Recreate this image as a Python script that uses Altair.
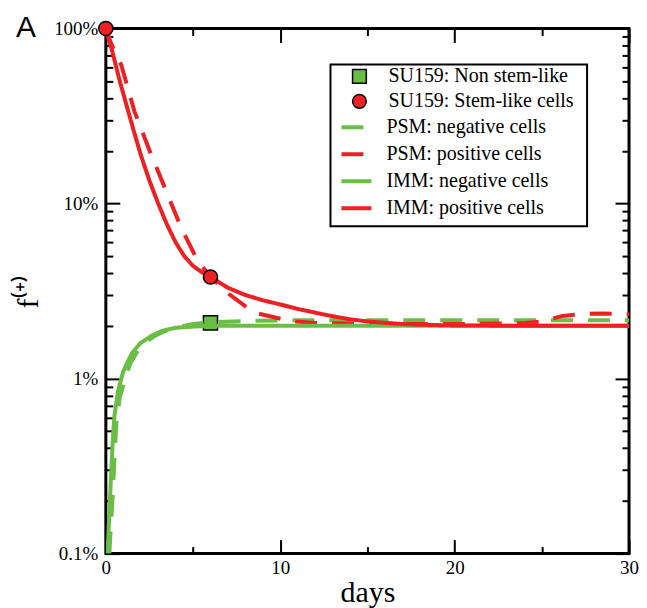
import altair as alt
import pandas as pd

# ---------------- data ----------------
panel_label = ["A"]

marker_names = ["SU159: Non stem-like", "SU159: Stem-like cells"]
model_names = ["PSM: negative cells", "PSM: positive cells", "IMM: negative cells", "IMM: positive cells"]

# PSM (dashed) curves
psm_neg_days = [0.2, 0.3, 0.4, 0.5, 0.6, 0.8, 1.07, 1.4, 1.83, 2.3, 2.8, 3.4, 4.0, 5.0, 6.0, 8.0, 10.0, 15.0, 20.0, 25.0, 30.0]
psm_neg_vals = [0.1, 0.15, 0.22, 0.36, 0.55, 0.78, 0.97, 1.22, 1.44, 1.62, 1.75, 1.87, 1.95, 2.05, 2.1, 2.13, 2.15, 2.15, 2.15, 2.15, 2.15]

psm_pos_days = [0.0, 0.3, 0.88, 1.64, 2.6, 3.55, 4.31, 5.27, 6.0, 7.08, 8.5, 10.6, 12.0, 15.0, 20.0, 24.0, 25.0, 26.2, 27.5, 28.5, 30.0]
psm_pos_vals = [100.0, 82.0, 62.0, 33.6, 19.0, 11.2, 7.3, 4.7, 3.8, 3.03, 2.38, 2.13, 2.08, 2.05, 2.05, 2.07, 2.12, 2.28, 2.34, 2.35, 2.33]

# IMM (solid) curves
imm_neg_days = [0.1, 0.2, 0.3, 0.4, 0.5, 0.7, 1.0, 1.5, 2.0, 2.6, 3.2, 4.0, 5.0, 6.0, 10.0, 20.0, 30.0]
imm_neg_vals = [0.1, 0.17, 0.28, 0.45, 0.62, 0.85, 1.1, 1.4, 1.6, 1.75, 1.87, 1.95, 1.98, 2.0, 2.0, 2.0, 2.0]

imm_pos_days = [0.0, 0.4, 0.8, 1.2, 1.6, 2.0, 2.5, 3.0, 3.5, 4.0, 4.5, 5.0, 5.5, 6.0, 7.0, 8.0, 9.0, 10.0, 11.0, 12.0, 13.0, 14.0, 15.0, 16.0, 17.0, 18.0, 20.0, 25.0, 30.0]
imm_pos_vals = [100.0, 72.0, 50.0, 36.0, 26.0, 19.0, 13.5, 10.0, 7.6, 6.0, 5.0, 4.4, 4.05, 3.8, 3.3, 3.0, 2.8, 2.65, 2.5, 2.38, 2.27, 2.18, 2.12, 2.08, 2.05, 2.03, 2.01, 2.0, 2.0]

# experimental points
sq_series = ["SU159: Non stem-like"]
sq_days = [6.0]
sq_vals = [2.08]
circ_series = ["SU159: Stem-like cells", "SU159: Stem-like cells"]
circ_days = [0.0, 6.0]
circ_vals = [100.0, 3.8]

# axis tick values
x_label_vals = [0, 10, 20, 30]
x_tick_vals = [0, 5, 10, 15, 20, 25, 30]
y_label_vals = [0.1, 1, 10, 100]
y_tick_vals = [0.1, 0.2, 0.3, 0.4, 0.5, 0.6, 0.7, 0.8, 0.9,
               1, 2, 3, 4, 5, 6, 7, 8, 9,
               10, 20, 30, 40, 50, 60, 70, 80, 90, 100]

GREEN = "#6abd45"
RED = "#ed2024"

# ---------------- frames ----------------
def mk(name, days, vals):
    return pd.DataFrame({"series": name, "day": days, "pct": vals})

psm_df = pd.concat([mk("PSM: negative cells", psm_neg_days, psm_neg_vals),
                    mk("PSM: positive cells", psm_pos_days, psm_pos_vals)])
imm_df = pd.concat([mk("IMM: negative cells", imm_neg_days, imm_neg_vals),
                    mk("IMM: positive cells", imm_pos_days, imm_pos_vals)])
sq_df = pd.DataFrame({"series": sq_series, "day": sq_days, "pct": sq_vals})
circ_df = pd.DataFrame({"series": circ_series, "day": circ_days, "pct": circ_vals})
lab_df = pd.DataFrame({"label": panel_label})
box_df = pd.DataFrame({"k": [0]})

W, H = 524, 526
SERIF = "Liberation Serif"

x_scale = alt.Scale(domain=[0, 30], nice=False)
y_scale = alt.Scale(type="log", domain=[0.1, 100], nice=False)

fill_scale = alt.Scale(domain=marker_names, range=[GREEN, RED])
shape_scale = alt.Scale(domain=marker_names, range=["square", "circle"])
stroke_scale = alt.Scale(domain=model_names, range=[GREEN, RED, GREEN, RED])
dash_scale = alt.Scale(domain=model_names, range=[[22, 15], [22, 15], [1, 0], [1, 0]])

leg_markers = alt.Legend(
    title=None, orient="none", legendX=244, legendY=38,
    labelFont=SERIF, labelFontSize=20, labelColor="black", labelLimit=0,
    symbolSize=190, symbolStrokeWidth=1.5, symbolOpacity=1,
    labelOffset=19, rowPadding=5, padding=0,
)
leg_models = alt.Legend(
    title=None, orient="none", legendX=234, legendY=82,
    labelFont=SERIF, labelFontSize=20, labelColor="black", labelLimit=0,
    symbolType="stroke", symbolSize=900, symbolStrokeWidth=4, symbolOpacity=1,
    labelOffset=13, rowPadding=-7, padding=0,
)

x_major = {"condition": {"test": "datum.value % 10 === 0", "value": 14}, "value": 7}
y_major = {"condition": {"test": "datum.value === 0.1 || datum.value === 1 || datum.value === 10 || datum.value === 100", "value": 14}, "value": 7}

def tick_axis(orient, vals, size, offset):
    return alt.Axis(orient=orient, values=vals, labels=False, title=None, domain=False, grid=False,
                    ticks=True, tickSize=size, tickWidth=2, tickColor="black", offset=offset)

main_x = alt.Axis(values=x_label_vals, ticks=False, domain=False, grid=False, title="days",
                  labelFont=SERIF, labelFontSize=19, labelColor="black", labelPadding=5,
                  labelFlush=False, labelOverlap=False,
                  titleFont=SERIF, titleFontSize=30, titleFontWeight="normal", titleColor="black", titlePadding=0)
main_y = alt.Axis(values=y_label_vals, labelExpr="datum.value + '%'", ticks=False, domain=False, grid=False,
                  title="f⁽⁺⁾", labelFont=SERIF, labelFontSize=19, labelColor="black", labelPadding=8,
                  labelFlush=False, labelOverlap=False,
                  titleFont=SERIF, titleFontSize=30, titleFontWeight="normal", titleColor="black", titlePadding=10)

sq_layer = alt.Chart(sq_df).mark_point(filled=True, stroke="black", strokeWidth=1.5, size=200, opacity=1).encode(
    x=alt.X("day:Q", scale=x_scale, axis=None),
    y=alt.Y("pct:Q", scale=y_scale, axis=None),
    fill=alt.Fill("series:N", scale=fill_scale, legend=leg_markers),
    shape=alt.Shape("series:N", scale=shape_scale, legend=leg_markers),
)

psm_layer = alt.Chart(psm_df).mark_line(strokeWidth=4, clip=True).encode(
    x=alt.X("day:Q", scale=x_scale, axis=main_x),
    y=alt.Y("pct:Q", scale=y_scale, axis=main_y),
    stroke=alt.Stroke("series:N", scale=stroke_scale, legend=leg_models),
    strokeDash=alt.StrokeDash("series:N", scale=dash_scale, legend=leg_models),
)

imm_layer = alt.Chart(imm_df).mark_line(strokeWidth=4, clip=True).encode(
    x=alt.X("day:Q", scale=x_scale, axis=tick_axis("top", x_tick_vals, x_major, -H)),
    y=alt.Y("pct:Q", scale=y_scale, axis=tick_axis("right", y_tick_vals, y_major, -W)),
    stroke=alt.Stroke("series:N", scale=stroke_scale, legend=leg_models),
    strokeDash=alt.StrokeDash("series:N", scale=dash_scale, legend=leg_models),
)

circ_layer = alt.Chart(circ_df).mark_point(filled=True, stroke="black", strokeWidth=1.5, size=200, opacity=1).encode(
    x=alt.X("day:Q", scale=x_scale, axis=tick_axis("bottom", x_tick_vals, x_major, -H)),
    y=alt.Y("pct:Q", scale=y_scale, axis=tick_axis("left", y_tick_vals, y_major, -W)),
    fill=alt.Fill("series:N", scale=fill_scale, legend=leg_markers),
    shape=alt.Shape("series:N", scale=shape_scale, legend=leg_markers),
)

box_layer = alt.Chart(box_df).mark_rect(fill="white", stroke="black", strokeWidth=2).encode(
    x=alt.value(225), x2=alt.value(482), y=alt.value(36), y2=alt.value(198),
)

lab_layer = alt.Chart(lab_df).mark_text(font="Liberation Sans", fontSize=30, align="left", baseline="alphabetic", color="black").encode(
    x=alt.value(-90), y=alt.value(9), text="label:N",
)

chart = alt.layer(sq_layer, psm_layer, imm_layer, circ_layer, box_layer, lab_layer).resolve_axis(
    x="independent", y="independent"
).properties(
    width=W, height=H,
    padding={"left": 5, "top": 5, "right": 0, "bottom": 0},
).configure_view(
    stroke="black", strokeWidth=3
).configure_axis(
    labelFont=SERIF, titleFont=SERIF
).configure_legend(
    labelFont=SERIF
)

chart.save("out.html", embed_options={"renderer": "svg", "actions": False})
